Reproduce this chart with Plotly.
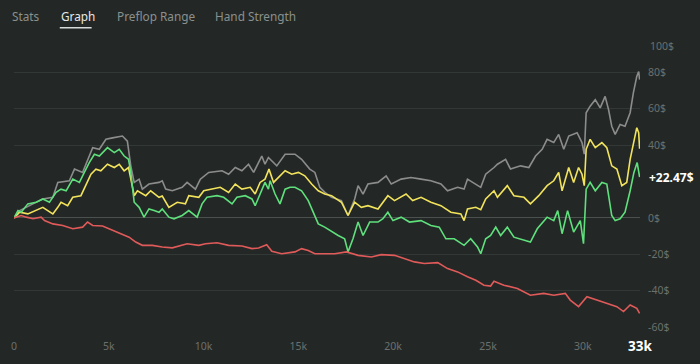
import plotly.graph_objects as go

# ---- data (hands in thousands, profit in $) ----
gray_x = [0, 0.3, 1.0, 1.52, 2.05, 2.31, 2.92, 3.19, 3.62, 3.88, 4.15, 4.5, 4.85, 5.2, 5.72, 5.98, 6.16, 6.34, 6.6, 6.77, 7.12, 7.65, 7.82, 8.0, 8.35, 8.87, 9.13, 9.57, 9.83, 10.27, 10.97, 11.32, 11.67, 12.02, 12.37, 12.64, 13.07, 13.24, 13.42, 13.86, 14.3, 14.82, 15.17, 15.6, 15.87, 16.13, 16.4, 16.75, 17.27, 17.62, 17.97, 18.15, 18.41, 18.67, 19.2, 19.63, 19.9, 20.42, 20.94, 21.47, 21.99, 22.52, 22.87, 23.4, 23.74, 23.92, 24.45, 24.62, 24.88, 25.14, 25.32, 25.5, 25.93, 26.19, 26.72, 27.16, 27.51, 27.86, 28.12, 28.47, 28.73, 29.0, 29.26, 29.7, 29.96, 30.08, 30.18, 30.39, 30.66, 30.92, 31.18, 31.36, 31.53, 31.71, 31.97, 32.23, 32.5, 32.67, 32.85, 32.95, 33.0]
gray_y = [0, 4, 7.7, 10.4, 11.3, 19.5, 20.4, 26.8, 25, 32.2, 38.6, 37.7, 43.2, 44, 45, 42.2, 28.6, 19.5, 21.3, 15.8, 18.6, 19.5, 20.4, 15.8, 14.9, 16.8, 19.5, 15.8, 21.3, 25, 25.9, 24, 27.7, 25.9, 29.5, 25, 34, 29.5, 33.2, 28.6, 35, 35, 32.2, 26.8, 25, 16.8, 14, 11.3, 9.5, 1.3, 10.4, 17.7, 13.1, 18.6, 19.5, 23.1, 18.6, 21.3, 22.2, 21.3, 20.4, 18.6, 14.9, 16.8, 15.8, 21.3, 17.7, 16.8, 24, 25.9, 27.7, 29.5, 32.2, 26.8, 28.6, 27.7, 34, 37.7, 43.2, 41.4, 45.9, 37.7, 45, 46.8, 41.4, 35, 57.8, 61.4, 65, 60.5, 66.8, 59.6, 50.4, 45.9, 51.4, 50.4, 57.8, 68.7, 77.8, 80.5, 76]

yellow_x = [0, 0.3, 0.73, 1.09, 1.52, 1.78, 2.05, 2.31, 2.48, 2.83, 3.1, 3.53, 3.8, 4.06, 4.32, 4.58, 4.93, 5.29, 5.55, 5.81, 6.04, 6.16, 6.34, 6.51, 6.95, 7.21, 7.65, 7.82, 8.17, 8.61, 9.04, 9.22, 9.75, 10.01, 10.45, 10.88, 11.32, 11.67, 12.02, 12.46, 12.72, 12.98, 13.24, 13.45, 13.69, 13.95, 14.3, 14.65, 15.0, 15.34, 15.7, 16.05, 16.39, 16.75, 17.27, 17.62, 17.97, 18.32, 18.67, 19.2, 19.72, 20.07, 20.68, 21.03, 21.47, 21.99, 22.52, 23.04, 23.57, 23.74, 23.92, 24.36, 24.62, 24.88, 25.32, 25.5, 26.02, 26.37, 26.9, 27.24, 27.68, 28.12, 28.47, 28.73, 28.91, 29.26, 29.52, 29.78, 29.96, 30.08, 30.18, 30.39, 30.66, 31.01, 31.27, 31.53, 31.8, 32.06, 32.32, 32.5, 32.7, 32.85, 32.95, 33.0]
yellow_y = [0, 3.1, 2.2, 4, 5.8, 4, 2.2, 5.8, 8.6, 6.7, 11.3, 12.2, 18.6, 24, 26.8, 25.9, 29.5, 27.7, 29.5, 25.9, 27.7, 22.2, 12.2, 14.9, 12.2, 14.9, 11.3, 12, 5.8, 8.6, 7.7, 12.2, 11.3, 14.9, 15.8, 16.8, 14, 18.6, 15.8, 16.8, 13.1, 19.5, 21.3, 26.8, 19.5, 22.2, 25.9, 24, 25, 23.1, 18.6, 14.9, 13.1, 12.2, 8.6, 1.3, 8.6, 5.8, 6.7, 4.9, 12.2, 9.5, 13.1, 9.5, 11.3, 8.6, 6.7, 3.1, 2.2, -1.5, 4.9, 5.8, 4.5, 10.4, 14.9, 11.3, 17.7, 12.2, 11.3, 7.7, 12.2, 17.7, 20.4, 25, 14.9, 27.7, 19.5, 27.7, 24, 17.7, 37.7, 43.2, 38.6, 41.4, 38.6, 28.6, 26.8, 17.7, 19.5, 32.2, 43.2, 49.6, 46.8, 38]

green_x = [0, 0.21, 0.38, 0.73, 1.17, 1.52, 1.87, 2.22, 2.48, 2.75, 3.1, 3.45, 3.71, 3.97, 4.24, 4.5, 4.93, 5.29, 5.55, 5.81, 6.04, 6.16, 6.34, 6.6, 6.86, 7.12, 7.39, 7.65, 7.82, 8.17, 8.44, 8.87, 9.22, 9.66, 9.92, 10.18, 10.71, 11.06, 11.5, 11.76, 12.2, 12.55, 12.72, 13.07, 13.24, 13.42, 13.51, 13.77, 14.03, 14.3, 14.56, 14.82, 15.17, 15.52, 15.87, 16.05, 16.39, 16.75, 17.1, 17.44, 17.62, 17.88, 18.15, 18.41, 18.76, 19.2, 19.46, 19.72, 19.99, 20.42, 20.86, 21.47, 21.99, 22.43, 22.78, 23.22, 23.74, 24.09, 24.45, 24.62, 24.88, 25.14, 25.41, 25.67, 26.02, 26.37, 26.9, 27.24, 27.6, 28.12, 28.47, 28.68, 28.91, 29.2, 29.52, 29.87, 30.04, 30.18, 30.39, 30.66, 31.01, 31.27, 31.53, 31.71, 31.97, 32.23, 32.5, 32.7, 32.87, 33.0]
green_y = [0, 4, 3.1, 7.7, 8.6, 10.4, 8.6, 14, 15.8, 14.9, 21.3, 19.5, 25, 30.4, 35, 34, 38.6, 35.9, 37.7, 34, 32.2, 25, 8.6, 5.8, 0.4, 4.9, 4, 3.1, 4.9, 0.4, -0.5, 1.3, 4, 0.4, 7.7, 11.3, 12.2, 11.3, 7.7, 11.3, 12.2, 10.4, 6.7, 14.9, 19.5, 15.8, 20.4, 13.1, 7.7, 15.8, 16.8, 16.8, 14.9, 9.5, 1.3, -3.3, -5.1, -7.5, -9.7, -11.5, -18.7, -11.5, -2.3, -9.7, -2.3, -2.3, -0.5, 3.1, -1.5, 0.4, -2.3, -1.5, -4.2, -5.1, -11.5, -11.5, -15.1, -11.5, -16, -19.7, -11.5, -9.7, -5.1, -9.7, -5.1, -10.6, -12.4, -13.3, -6, 0.4, -1.5, 4, -8.7, 4, -7.8, -1.5, -14.2, 15.8, 19.5, 14.9, 19.5, 18.6, 1.3, -1.5, -0.5, 3.1, 14.9, 25, 30.4, 22.47]

red_x = [0, 0.38, 0.65, 1.0, 1.43, 1.61, 2.05, 2.57, 3.1, 3.62, 3.88, 4.15, 4.67, 5.2, 5.63, 6.07, 6.42, 6.77, 7.3, 7.82, 8.35, 9.13, 9.75, 10.1, 10.71, 11.32, 12.02, 12.55, 12.9, 13.33, 13.6, 14.12, 14.82, 15.17, 15.52, 15.87, 16.39, 16.92, 17.53, 18.15, 18.85, 19.37, 20.07, 20.59, 21.12, 21.64, 22.35, 22.87, 23.4, 23.92, 24.36, 24.79, 25.14, 25.32, 25.84, 26.55, 27.24, 27.94, 28.47, 29.08, 29.34, 29.78, 30.22, 30.74, 31.27, 31.8, 32.15, 32.5, 32.85, 33.0]
red_y = [0, 1.3, 0.4, -0.5, 0.4, -1.5, -3.3, -4.2, -6, -5.1, -2.3, -4.2, -4.5, -6.9, -8.7, -10.6, -13.3, -15.1, -15.1, -16, -16.5, -14.2, -15.1, -14.2, -13.7, -15.1, -15.5, -16.9, -16.6, -14.8, -18.4, -19.7, -18.7, -16.9, -17.9, -19.7, -19.7, -19.7, -18.7, -20.6, -21.5, -20.2, -20.6, -22.4, -24.2, -25.1, -24.6, -27.9, -29.7, -32.4, -34.3, -37, -37.5, -34.8, -37, -38.8, -42.5, -41.5, -42.5, -41.5, -45.2, -48.8, -43.3, -45.2, -47, -48.8, -51.5, -47.9, -49.7, -52.5]

x_tick_vals = [0, 5000, 10000, 15000, 20000, 25000, 30000]
x_tick_text = ["0", "5k", "10k", "15k", "20k", "25k", "30k"]
y_tick_vals = [80, 60, 40, 0, -20, -40, -60]
y_tick_text = ["80$", "60$", "40$", "0$", "-20$", "-40$", "-60$"]
final_label = "+22.47$"
end_label = "33k"
tabs = ["Stats", "Graph", "Preflop Range", "Hand Strength"]

BG = "#232826"
W, H = 700, 364
L, R, T, B = 11, 60, 36, 35
PW, PH = W - L - R, H - T - B


def px_to_paper_x(px):
    return (px - L) / PW


def py_to_paper_y(py):
    return (H - B - py) / PH


fig = go.Figure()
series = [
    (gray_x, gray_y, "#8c8c8c"),
    (yellow_x, yellow_y, "#f2e35c"),
    (green_x, green_y, "#5fe07c"),
    (red_x, red_y, "#e05a5a"),
]
for xs, ys, col in series:
    fig.add_trace(go.Scatter(
        x=[v * 1000 for v in xs], y=ys, mode="lines",
        line=dict(color=col, width=1.6), hoverinfo="skip", showlegend=False,
    ))

annotations = []
tab_px = [7, 56, 112, 211]
for i, (t, p) in enumerate(zip(tabs, tab_px)):
    annotations.append(dict(
        text=t, xref="paper", yref="paper", x=px_to_paper_x(p), y=py_to_paper_y(16),
        xanchor="left", yanchor="middle", showarrow=False,
        font=dict(family="Noto Sans", size=11.8, color="#e6e8e7" if t == "Graph" else "#8b908d"),
    ))
annotations.append(dict(
    text="100$", xref="paper", yref="paper", x=px_to_paper_x(648), y=py_to_paper_y(46),
    xanchor="left", yanchor="middle", showarrow=False,
    font=dict(family="Noto Sans", size=10.5, color="#6b706d"),
))
annotations.append(dict(
    text="<b>" + final_label + "</b>", xref="paper", yref="y", x=px_to_paper_x(647), y=green_y[-1],
    xanchor="left", yanchor="middle", showarrow=False,
    font=dict(family="Noto Sans", size=12, color="#ffffff"),
))
annotations.append(dict(
    text="<b>" + end_label + "</b>", xref="x", yref="paper", x=33000, y=py_to_paper_y(348),
    xanchor="center", yanchor="middle", showarrow=False,
    font=dict(family="Noto Sans", size=13.5, color="#ffffff"),
))

fig.update_layout(
    width=W, height=H,
    margin=dict(l=L, r=R, t=T, b=B, pad=0),
    paper_bgcolor=BG, plot_bgcolor=BG,
    showlegend=False,
    annotations=annotations,
    shapes=[dict(type="line", xref="paper", yref="paper",
                 x0=px_to_paper_x(57), x1=px_to_paper_x(89),
                 y0=py_to_paper_y(27.7), y1=py_to_paper_y(27.7),
                 line=dict(color="#d8dad9", width=1.5))],
    xaxis=dict(range=[0, 33020], showgrid=False, zeroline=False, showline=False,
               tickvals=x_tick_vals, ticktext=x_tick_text, ticks="",
               ticklabelstandoff=11,
               tickfont=dict(family="Noto Sans", size=10.5, color="#6b706d")),
    yaxis=dict(range=[-60, 100], side="right", showgrid=True, gridcolor="#323836",
               gridwidth=1, zeroline=True, zerolinecolor="#4b514e", zerolinewidth=1,
               showline=False, tickvals=y_tick_vals, ticktext=y_tick_text, ticks="",
               ticklabelstandoff=7,
               tickfont=dict(family="Noto Sans", size=10.5, color="#6b706d")),
)

fig.write_html(
    "out.html",
    config={"displayModeBar": False, "staticPlot": True},
    post_script="document.body.style.margin='0';document.body.style.padding='0';"
                "document.body.style.background='" + BG + "';"
                "document.body.style.overflow='hidden';",
)
